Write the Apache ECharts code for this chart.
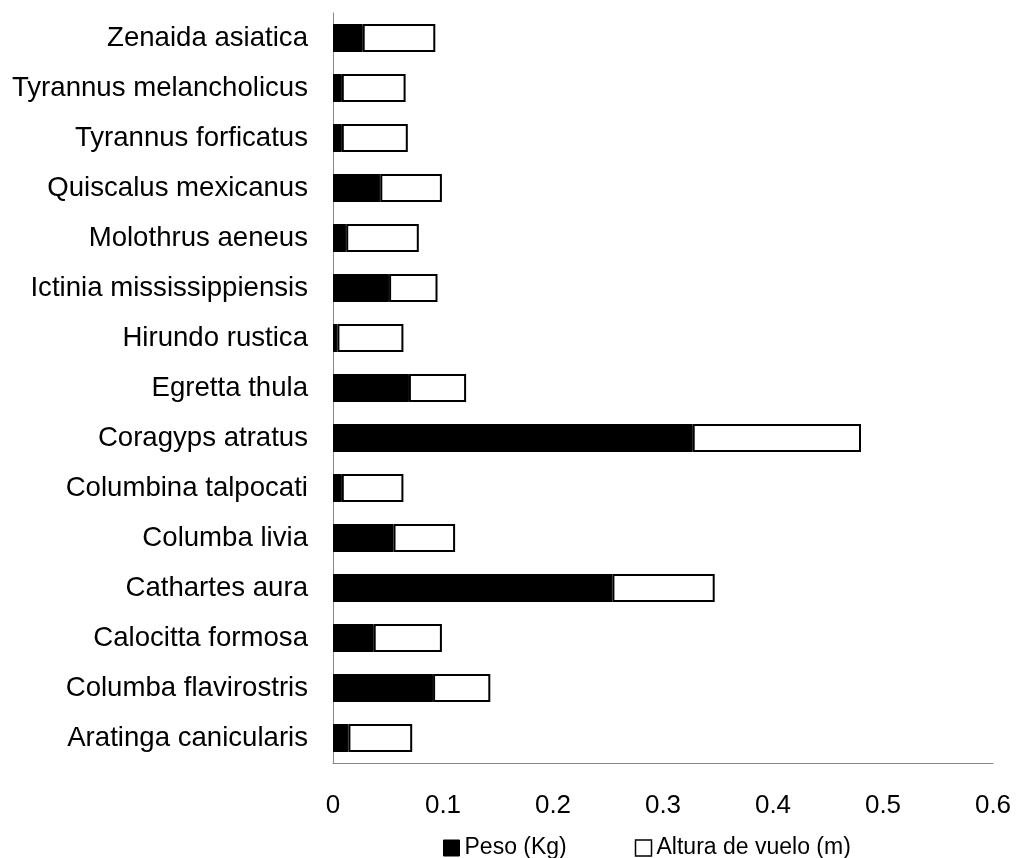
<!DOCTYPE html>
<html>
<head>
<meta charset="utf-8">
<script src="https://cdn.jsdelivr.net/npm/echarts@6/dist/echarts.min.js"></script>
<style>html,body{margin:0;padding:0;background:#fff}#c{width:1018px;height:858px}</style>
</head>
<body>
<div id="c"></div>
<script>
const categories = ["Aratinga canicularis","Columba flavirostris","Calocitta formosa","Cathartes aura","Columba livia","Columbina talpocati","Coragyps atratus","Egretta thula","Hirundo rustica","Ictinia mississippiensis","Molothrus aeneus","Quiscalus mexicanus","Tyrannus forficatus","Tyrannus melancholicus","Zenaida asiatica"];
const peso = [0.014,0.091,0.037,0.254,0.055,0.008,0.327,0.069,0.004,0.051,0.012,0.043,0.008,0.008,0.027];
const altura = [0.058,0.052,0.062,0.093,0.056,0.056,0.153,0.052,0.060,0.044,0.066,0.056,0.060,0.058,0.066];
const xTicks = [0,0.1,0.2,0.3,0.4,0.5,0.6];

const chart = echarts.init(document.getElementById('c'), null, {renderer:'canvas'});
chart.setOption({
  animation:false,
  backgroundColor:'#fff',
  textStyle:{fontFamily:'"Liberation Sans", Arial, sans-serif'},
  grid:{left:333, right:25, top:13, height:750, containLabel:false, outerBoundsMode:'none'},
  legend:{
    left:443, top:836, padding:0, itemGap:68, itemWidth:16, itemHeight:16,
    icon:'rect',
    textStyle:{fontSize:23, lineHeight:24, color:'#000', fontFamily:'"Liberation Sans", Arial, sans-serif'},
    data:[
      {name:'Peso (Kg)', itemStyle:{color:'#000', borderColor:'#000', borderWidth:1}},
      {name:'Altura de vuelo (m)', itemStyle:{color:'#fff', borderColor:'#000', borderWidth:1.5}}
    ]
  },
  xAxis:{
    type:'value', min:xTicks[0], max:xTicks[xTicks.length-1], interval:0.1,
    axisLine:{show:true, lineStyle:{color:'#888', width:1}},
    axisTick:{show:false},
    splitLine:{show:false},
    axisLabel:{fontSize:26, color:'#000', margin:30,
      formatter:function(v){ return xTicks.find(t=>Math.abs(t-v)<1e-9)!==undefined ? String(+v.toFixed(1)) : ''; }}
  },
  yAxis:{
    type:'category', data:categories,
    axisLine:{show:true, lineStyle:{color:'#888', width:1}},
    axisTick:{show:false},
    axisLabel:{fontSize:27.6, color:'#000', margin:25}
  },
  series:[
    {name:'Peso (Kg)', type:'bar', stack:'t', data:peso, barWidth:28,
     itemStyle:{color:'#000', borderColor:'#000', borderWidth:1}},
    {name:'Altura de vuelo (m)', type:'bar', stack:'t', data:altura, barWidth:28,
     itemStyle:{color:'#fff', borderColor:'#000', borderWidth:2}}
  ]
});
</script>
</body>
</html>
